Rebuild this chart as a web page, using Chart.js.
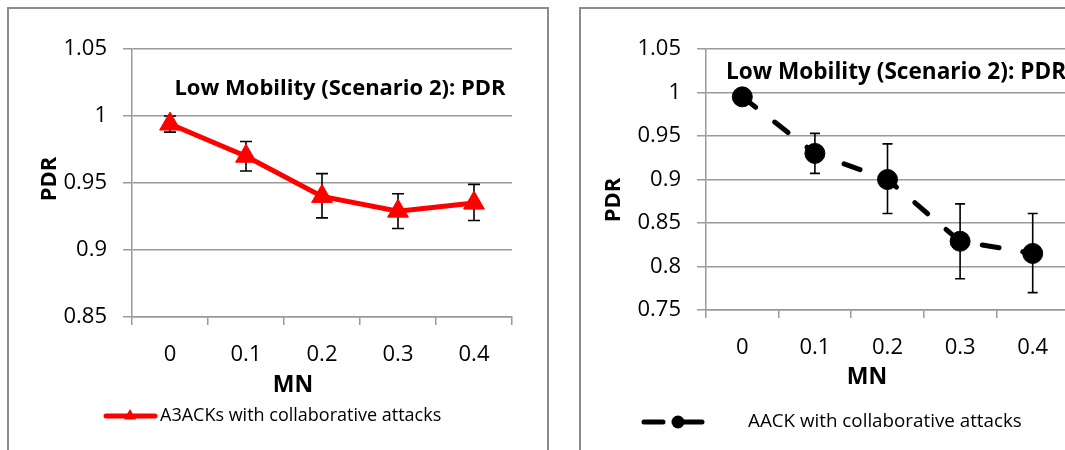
<!DOCTYPE html>
<html><head><meta charset="utf-8">
<script src="https://cdn.jsdelivr.net/npm/chart.js@4.4.1/dist/chart.umd.min.js"></script>
<style>
html,body{margin:0;padding:0;background:#fff;overflow:hidden;width:1065px;height:450px;position:relative;}
#f1{position:absolute;left:7px;top:7px;width:538px;height:470px;border:2px solid #8c8c8c;border-bottom:none;}
#f2{position:absolute;left:579px;top:7px;width:600px;height:470px;border:2px solid #8c8c8c;border-bottom:none;}
#c1{position:absolute;left:0;top:0;}
#c2{position:absolute;left:560px;top:0;}
</style>
</head><body>
<div id="f1"></div><div id="f2"></div>
<canvas id="c1" width="560" height="450"></canvas>
<canvas id="c2" width="520" height="450"></canvas>
<script>
const categories = ['0', '0.1', '0.2', '0.3', '0.4'];
const a3ackPDR      = [0.994, 0.970, 0.940, 0.929, 0.935];
const a3ackErrUpper = [1.000, 0.981, 0.957, 0.942, 0.949];
const a3ackErrLower = [0.988, 0.959, 0.924, 0.916, 0.922];
const aackPDR      = [0.995, 0.930, 0.900, 0.829, 0.815];
const aackErrUpper = [0.999, 0.953, 0.941, 0.872, 0.861];
const aackErrLower = [0.991, 0.907, 0.861, 0.786, 0.770];
const leftYTicks  = [0.85, 0.9, 0.95, 1, 1.05];
const rightYTicks = [0.75, 0.8, 0.85, 0.9, 0.95, 1, 1.05];
const chartTitle = 'Low Mobility (Scenario 2): PDR';
const yTitle = 'PDR';
const xTitle = 'MN';
const leftLegend = 'A3ACKs with collaborative attacks';
const rightLegend = 'AACK with collaborative attacks';

const FONT = "'Open Sans', 'Liberation Sans', sans-serif";
const GRID = '#9a9a9a';

const errorBars = {
  id: 'errorBars',
  beforeDatasetsDraw(chart, args, o) {
    const ctx = chart.ctx, y = chart.scales.y;
    const meta = chart.getDatasetMeta(0);
    ctx.save();
    ctx.strokeStyle = '#000';
    ctx.lineWidth = o.width;
    o.upper.forEach((u, i) => {
      const px = meta.data[i].x;
      const yt = y.getPixelForValue(u), yb = y.getPixelForValue(o.lower[i]);
      ctx.beginPath();
      ctx.moveTo(px, yt); ctx.lineTo(px, yb);
      ctx.moveTo(px - o.cap, yt); ctx.lineTo(px + o.cap, yt);
      ctx.moveTo(px - o.cap, yb); ctx.lineTo(px + o.cap, yb);
      ctx.stroke();
    });
    ctx.restore();
  }
};

const decor = {
  id: 'decor',
  afterDraw(chart, args, o) {
    const ctx = chart.ctx, ca = chart.chartArea;
    ctx.save();
    ctx.fillStyle = '#000';
    ctx.textBaseline = 'middle';
    // chart title
    ctx.font = 'bold ' + o.titleSize + 'px ' + FONT;
    ctx.textAlign = o.titleAlign;
    ctx.fillText(chartTitle, ca.left + o.titleDX, ca.top + o.titleDY);
    // x axis title
    ctx.font = 'bold 23px ' + FONT;
    ctx.textAlign = 'center';
    ctx.fillText(xTitle, ca.left + o.xTitleDX, ca.bottom + o.xTitleDY);
    // y axis title
    ctx.save();
    ctx.translate(o.yTitleX, ca.top + o.yTitleDY);
    ctx.rotate(-Math.PI / 2);
    ctx.font = 'bold 22px ' + FONT;
    ctx.fillText(yTitle, 0, 0);
    ctx.restore();
    // legend
    const ds = chart.data.datasets[0];
    const L = o.legend;
    const off = L.offset || 0;
    const x0 = L.x0 - off, x1 = L.x1 - off, mx = L.mx - off, tx = L.tx - off;
    ctx.strokeStyle = ds.borderColor;
    ctx.fillStyle = ds.borderColor;
    ctx.lineWidth = 5;
    ctx.lineCap = 'round';
    ctx.beginPath();
    if (L.dashed) {
      ctx.moveTo(x0, L.y); ctx.lineTo(x0 + 19, L.y);
      ctx.moveTo(mx, L.y); ctx.lineTo(x1, L.y);
    } else {
      ctx.moveTo(x0, L.y); ctx.lineTo(x1, L.y);
    }
    ctx.stroke();
    ctx.beginPath();
    if (ds.pointStyle === 'triangle') {
      const r = 7;
      ctx.moveTo(mx, L.y - r);
      ctx.lineTo(mx + r * 0.866, L.y + r * 0.5);
      ctx.lineTo(mx - r * 0.866, L.y + r * 0.5);
      ctx.closePath();
    } else {
      ctx.arc(mx, L.y, 6.5, 0, Math.PI * 2);
    }
    ctx.fill();
    ctx.fillStyle = '#000';
    ctx.font = L.size + 'px ' + FONT;
    ctx.textAlign = 'left';
    ctx.fillText(ds.label, tx, L.y);
    ctx.restore();
  }
};

function makeScales(yTicks, xH, yW, yMin, yMax) {
  return {
    x: {
      type: 'category', offset: true,
      grid: { display: true, drawOnChartArea: false, drawTicks: true, tickLength: 8, offset: true, color: GRID, lineWidth: 1.5 },
      border: { display: true, color: GRID, width: 1.5 },
      ticks: { font: { family: FONT, size: 22 }, color: '#000', padding: 17, maxRotation: 0, autoSkip: false },
      afterFit(s) { s.height = xH; }
    },
    y: {
      min: yMin, max: yMax,
      afterBuildTicks(s) { s.ticks = yTicks.map(v => ({ value: v })); },
      grid: { color: GRID, lineWidth: 1.5, tickLength: 9, drawTicks: true },
      border: { display: true, color: GRID, width: 1.5 },
      ticks: { font: { family: FONT, size: 22 }, color: '#000', padding: 16, callback: v => String(+(+v).toFixed(2)) },
      afterFit(s) { s.width = yW; }
    }
  };
}

new Chart(document.getElementById('c1'), {
  type: 'line',
  data: {
    labels: categories,
    datasets: [{
      label: leftLegend, data: a3ackPDR,
      borderColor: '#ff0000', backgroundColor: '#ff0000', borderWidth: 5, tension: 0,
      pointStyle: 'triangle', pointRadius: 12, pointBackgroundColor: '#ff0000', pointBorderColor: '#ff0000', pointBorderWidth: 1
    }]
  },
  options: {
    responsive: false, animation: false, devicePixelRatio: 1,
    layout: { padding: { top: 49, right: 48, left: 0, bottom: 0 } },
    plugins: {
      legend: { display: false }, tooltip: { enabled: false },
      errorBars: { upper: a3ackErrUpper, lower: a3ackErrLower, cap: 6, width: 1.6 },
      decor: { titleSize: 22, titleAlign: 'center', titleDX: 208, titleDY: 40, xTitleDX: 161, xTitleDY: 68, yTitleX: 50, yTitleDY: 130,
               legend: { x0: 106, x1: 155, mx: 130, y: 416, tx: 160, dashed: false, size: 18 } }
    },
    scales: makeScales(leftYTicks, 133, 132, 0.85, 1.05)
  },
  plugins: [errorBars, decor]
});

new Chart(document.getElementById('c2'), {
  type: 'line',
  data: {
    labels: categories,
    datasets: [{
      label: rightLegend, data: aackPDR,
      borderColor: '#000000', backgroundColor: '#000000', borderWidth: 5, tension: 0,
      borderDash: [17, 24], borderCapStyle: 'round',
      pointStyle: 'circle', pointRadius: 10, pointBackgroundColor: '#000000', pointBorderColor: '#000000', pointBorderWidth: 1
    }]
  },
  options: {
    responsive: false, animation: false, devicePixelRatio: 1,
    layout: { padding: { top: 49, right: 7, left: 0, bottom: 0 } },
    plugins: {
      legend: { display: false }, tooltip: { enabled: false },
      errorBars: { upper: aackErrUpper, lower: aackErrLower, cap: 5, width: 1.6 },
      decor: { titleSize: 22.6, titleAlign: 'left', titleDX: 20, titleDY: 24, xTitleDX: 161, xTitleDY: 67, yTitleX: 54, yTitleDY: 151,
               legend: { x0: 644, x1: 702, mx: 678, y: 422, tx: 748, dashed: true, offset: 560, size: 18.8 } }
    },
    scales: makeScales(rightYTicks, 140, 146, 0.75, 1.05)
  },
  plugins: [errorBars, decor]
});
</script>
</body></html>
